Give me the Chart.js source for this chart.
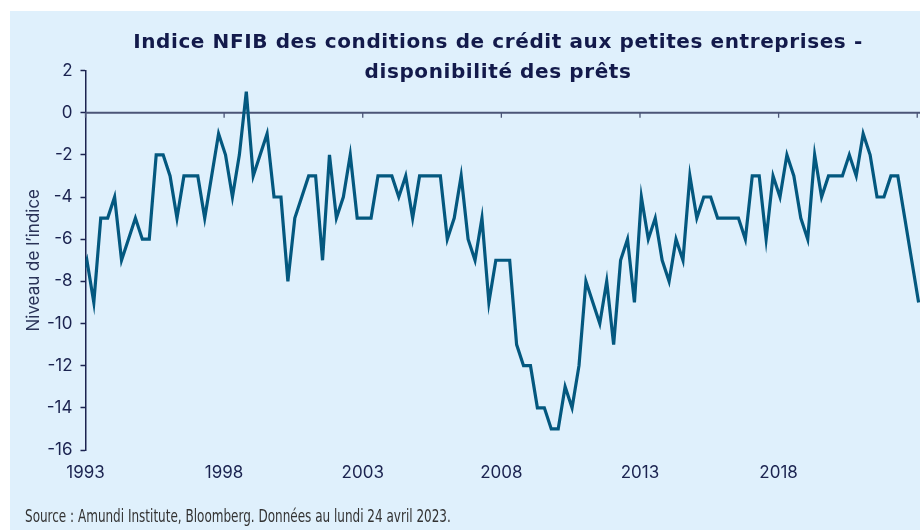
<!DOCTYPE html>
<html lang="fr">
<head>
<meta charset="utf-8">
<script src="https://cdn.jsdelivr.net/npm/chart.js@4"></script>
<style>
  body { margin: 0; background: #fff; }
  #wrap { position: relative; width: 920px; height: 530px; overflow: hidden; }
  #panel { position: absolute; left: 10px; top: 11px; right: 0; bottom: 0; background: #dff0fc; }
  #chart { position: absolute; left: 0; top: 0; }
  #title {
    position: absolute; left: 85px; width: 826px; top: 26px;
    text-align: center; font-family: "DejaVu Sans", sans-serif; font-weight: bold;
    font-size: 20px; letter-spacing: 0.6px; line-height: 30px; color: #131a4b;
  }
  #source {
    position: absolute; left: 25px; top: 506px; white-space: nowrap;
    font-family: "Liberation Sans Narrow", "DejaVu Sans Condensed", sans-serif;
    font-size: 17px; color: #333; transform-origin: left top;
  }
</style>
</head>
<body>
<div id="wrap">
  <div id="panel"></div>
  <canvas id="chart" width="920" height="530"></canvas>
  <div id="title">Indice NFIB des conditions de crédit aux petites entreprises -<br>disponibilité des prêts</div>
  <div id="source">Source : Amundi Institute, Bloomberg. Données au lundi 24 avril 2023.</div>
</div>
<script>
// trimestres, le premier point (4e trim. 1992) sort du cadre à gauche
const firstQuarter = 1992.8;
const indexValues = [
  -8,
  -7, -9, -5, -5, -4, -7, -6, -5, -6, -6,
  -2, -2, -3, -5, -3, -3, -3, -5, -3, -1,
  -2, -4, -2, 1, -3, -2, -1, -4, -4, -8,
  -5, -4, -3, -3, -7, -2, -5, -4, -2, -5,
  -5, -5, -3, -3, -3, -4, -3, -5, -3, -3,
  -3, -3, -6, -5, -3, -6, -7, -5, -9, -7,
  -7, -7, -11, -12, -12, -14, -14, -15, -15, -13,
  -14, -12, -8, -9, -10, -8, -11, -7, -6, -9,
  -4, -6, -5, -7, -8, -6, -7, -3, -5, -4,
  -4, -5, -5, -5, -5, -6, -3, -3, -6, -3,
  -4, -2, -3, -5, -6, -2, -4, -3, -3, -3,
  -2, -3, -1, -2, -4, -4, -3, -3, -5, -7,
  -9
];
const yearLabels = [1993, 1998, 2003, 2008, 2013, 2018];
const zeroLineTicks = [1993, 1998, 2003, 2008, 2013, 2018, 2023];
const yTicks = [2, 0, -2, -4, -6, -8, -10, -12, -14, -16];

const navy = '#1b2350';
const axisGrey = '#4b5577';
const lineBlue = '#03587f';
const labelFont = { family: 'Inter', size: 17 };

// ligne du zéro avec ses petites graduations vers le bas
const zeroLine = {
  id: 'zeroLine',
  beforeDatasetsDraw(chart) {
    const { ctx, chartArea, scales: { x, y } } = chart;
    const y0 = y.getPixelForValue(0);
    ctx.save();
    ctx.strokeStyle = axisGrey;
    ctx.lineWidth = 2;
    ctx.beginPath();
    ctx.moveTo(chartArea.left, y0);
    ctx.lineTo(chartArea.right, y0);
    ctx.stroke();
    ctx.lineWidth = 1.3;
    ctx.beginPath();
    zeroLineTicks.forEach(yr => {
      const px = x.getPixelForValue(yr);
      ctx.moveTo(px, y0);
      ctx.lineTo(px, y0 + 5);
    });
    ctx.stroke();
    ctx.restore();
  }
};

new Chart(document.getElementById('chart').getContext('2d'), {
  type: 'line',
  data: {
    datasets: [{
      data: indexValues.map((v, i) => ({ x: firstQuarter + i * 0.25, y: v })),
      borderColor: lineBlue,
      borderWidth: 3.2,
      pointRadius: 0,
      tension: 0
    }]
  },
  options: {
    responsive: false,
    animation: false,
    devicePixelRatio: 1,
    layout: { padding: { top: 70.5, right: 0, bottom: 50, left: 0 } },
    plugins: { legend: { display: false }, tooltip: { enabled: false } },
    scales: {
      x: {
        type: 'linear',
        min: 1993,
        max: 2023.1,
        afterBuildTicks: s => { s.ticks = yearLabels.map(v => ({ value: v })); },
        afterFit: s => { s.height = 30; },
        grid: { display: false, drawTicks: false },
        border: { display: false },
        ticks: {
          font: labelFont, color: navy, padding: 13,
          autoSkip: false, maxRotation: 0,
          callback: v => String(v)
        }
      },
      y: {
        min: -16,
        max: 2,
        afterBuildTicks: s => { s.ticks = yTicks.map(v => ({ value: v })); },
        afterFit: s => { s.width = 85.5; },
        border: { display: true, color: navy, width: 1.5 },
        grid: { drawOnChartArea: false, tickLength: 5, tickColor: navy, tickWidth: 1.5 },
        ticks: { font: labelFont, color: navy, padding: 8, callback: v => String(v) },
        title: {
          display: true,
          text: 'Niveau de l’indice',
          font: labelFont,
          color: '#2a3358',
          padding: { top: 24, bottom: 0 }
        }
      }
    }
  },
  plugins: [zeroLine]
});

// la source est en police étroite : on la ramène à la largeur du modèle
const src = document.getElementById('source');
src.style.transform = 'scaleX(' + (426 / src.offsetWidth) + ')';
</script>
</body>
</html>
